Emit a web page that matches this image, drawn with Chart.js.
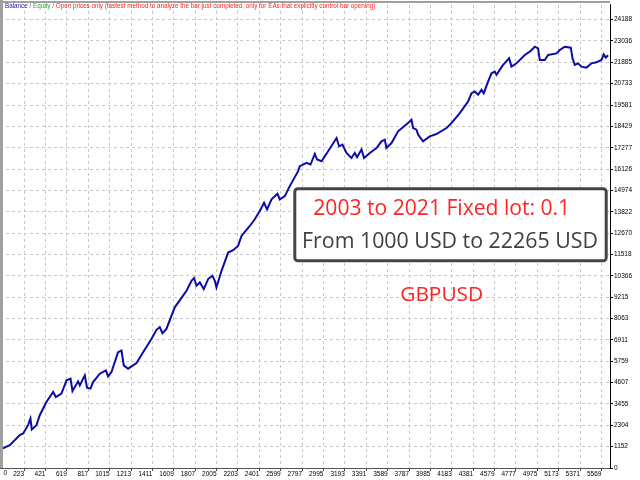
<!DOCTYPE html>
<html>
<head>
<meta charset="utf-8">
<script src="https://cdn.jsdelivr.net/npm/chart.js@4/dist/chart.umd.min.js"></script>
<style>
  html, body { margin: 0; background: #fff; }
  canvas { display: block; }
</style>
</head>
<body>
<canvas id="chart" width="640" height="480"></canvas>
<script>
// trade number / balance
const trades = [0, 91, 183, 214, 260, 282, 294, 338, 368, 430,
  492, 517, 569, 616, 653, 671, 723, 739, 785, 806,
  838, 862, 924, 980, 1001, 1032, 1093, 1125, 1146, 1186,
  1264, 1325, 1403, 1449, 1479, 1504, 1541, 1618, 1695, 1727,
  1773, 1797, 1819, 1850, 1887, 1927, 1967, 1989, 2004, 2051,
  2112, 2158, 2204, 2236, 2313, 2359, 2405, 2445, 2473, 2514,
  2569, 2591, 2637, 2683, 2760, 2776, 2838, 2875, 2915, 2936,
  2977, 3038, 3116, 3140, 3171, 3208, 3254, 3285, 3306, 3347,
  3371, 3424, 3486, 3532, 3563, 3578, 3625, 3686, 3794, 3810,
  3825, 3856, 3871, 3917, 3979, 4041, 4134, 4180, 4257, 4334,
  4366, 4396, 4427, 4458, 4479, 4519, 4551, 4581, 4597, 4658,
  4714, 4736, 4782, 4859, 4905, 4952, 4982, 4998, 5044, 5075,
  5153, 5183, 5229, 5285, 5301, 5322, 5353, 5384, 5430, 5477,
  5523, 5569, 5590, 5609, 5630];

const balance = [1000, 1236, 1773, 1864, 2310, 2670, 2079, 2310, 2848, 3562,
  4100, 3831, 4014, 4728, 4820, 4153, 4675, 4460, 4997, 4336,
  4282, 4637, 5088, 5266, 4943, 5174, 6249, 6340, 5534, 5357,
  5658, 6249, 6969, 7452, 7603, 7270, 7506, 8667, 9295, 9564,
  10101, 10246, 9833, 10010, 9655, 10193, 10370, 10101, 9741, 10639,
  11622, 11751, 11982, 12519, 13056, 13416, 13862, 14308, 13954, 14491,
  14792, 14491, 14668, 15206, 16012, 16280, 16458, 16371, 16941, 16640,
  16549, 17086, 17801, 17355, 17446, 16995, 16726, 16995, 16764, 17178,
  16726, 16995, 17264, 17623, 17715, 17264, 17532, 18161, 18698, 18789,
  18338, 18252, 17983, 17623, 17892, 18016, 18338, 18607, 19144, 19773,
  20219, 20310, 20133, 20401, 20219, 20847, 21293, 21385, 21207, 21744,
  22099, 21653, 21830, 22282, 22459, 22728, 22636, 22013, 22013, 22282,
  22368, 22550, 22728, 22674, 22099, 21744, 21830, 21653, 21599, 21830,
  21884, 22013, 22314, 22137, 22265];

const xTicks = [223, 421, 619, 817, 1015, 1213, 1411, 1609, 1807, 2005,
  2203, 2401, 2599, 2797, 2995, 3193, 3391, 3589, 3787, 3985,
  4183, 4381, 4579, 4777, 4975, 5173, 5371, 5569];
const xTickLabels = xTicks.map(String);

const yTickLabels = ["0", "1152", "2304", "3455", "4607", "5759", "6911", "8063",
  "9215", "10366", "11518", "12670", "13822", "14974", "16126", "17277",
  "18429", "19581", "20733", "21885", "23036", "24188"];
const yTicks = yTickLabels.map(Number);

const legendParts = [
  ["Balance", "#1a1aa8"], [" / ", "#606060"], ["Equity", "#22aa22"], [" / ", "#606060"],
  ["Open prices only (fastest method to analyze the bar just completed, only for EAs that explicitly control bar opening)", "#ff2020"]
];
const title1 = "2003 to 2021 Fixed lot: 0.1";
const title2 = "From 1000 USD to 22265 USD";
const symbol = "GBPUSD";

const axisFont = { family: "Liberation Sans", size: 6.5 };

function fitFont(ctx, text, width, family) {
  ctx.font = "100px " + family;
  return 100 * width / ctx.measureText(text).width;
}

const overlay = {
  id: "overlay",
  beforeDraw(c) {
    const ctx = c.ctx;
    ctx.save();
    ctx.fillStyle = "#fff";
    ctx.fillRect(0, 0, c.width, c.height);
    ctx.restore();
  },
  afterDraw(c) {
    const ctx = c.ctx;
    const a = c.chartArea;
    ctx.save();
    // gray frame left / top
    ctx.fillStyle = "#a0a0a0";
    ctx.fillRect(0, 0, 3, a.bottom);
    ctx.fillRect(0, 1, a.right, 2);

    // first x label, MT4 puts it at the left edge
    ctx.fillStyle = "#000";
    ctx.font = axisFont.size + "px " + axisFont.family;
    ctx.textBaseline = "middle";
    ctx.textAlign = "left";
    ctx.fillText("0", 3.5, 473.5);

    // legend line
    let total = legendParts.map(p => p[0]).join("");
    let fs = fitFont(ctx, total, 371, "Liberation Sans");
    ctx.font = fs + "px Liberation Sans";
    let x = 5;
    legendParts.forEach(p => {
      ctx.fillStyle = p[1];
      ctx.fillText(p[0], x, 6.5);
      x += ctx.measureText(p[0]).width;
    });

    // text box
    ctx.fillStyle = "#fff";
    ctx.strokeStyle = "#454545";
    ctx.lineWidth = 3;
    ctx.beginPath();
    ctx.roundRect(294.8, 188.8, 311.4, 72, 3);
    ctx.fill();
    ctx.stroke();

    ctx.textAlign = "center";
    ctx.textBaseline = "alphabetic";
    fs = fitFont(ctx, title1, 257, "Open Sans");
    ctx.font = fs + "px Open Sans";
    ctx.fillStyle = "#ff2424";
    ctx.fillText(title1, 441.7, 215);

    fs = fitFont(ctx, title2, 296, "Open Sans");
    ctx.font = fs + "px Open Sans";
    ctx.fillStyle = "#404040";
    ctx.fillText(title2, 450, 248.3);

    fs = fitFont(ctx, symbol, 83, "Open Sans");
    ctx.font = fs + "px Open Sans";
    ctx.fillStyle = "#ff2424";
    ctx.fillText(symbol, 441.7, 300.7);
    ctx.restore();
  }
};

const ctx = document.getElementById("chart").getContext("2d");
new Chart(ctx, {
  type: "line",
  data: {
    datasets: [{
      label: "Balance",
      data: trades.map((t, i) => ({ x: t, y: balance[i] })),
      borderColor: "#0c0ca6",
      borderWidth: 2,
      pointRadius: 0,
      tension: 0,
      fill: false
    }]
  },
  options: {
    responsive: false,
    animation: false,
    devicePixelRatio: 1,
    layout: { padding: { left: 0, top: 3, right: 0, bottom: 0 } },
    plugins: { legend: { display: false }, tooltip: { enabled: false } },
    scales: {
      x: {
        type: "linear",
        min: 0,
        max: 5648,
        afterBuildTicks: s => { s.ticks = xTicks.map(v => ({ value: v })); },
        afterFit: s => { s.height = 12; },
        ticks: {
          autoSkip: false, maxRotation: 0, align: "end", padding: -1,
          font: axisFont, color: "#000",
          callback: (v, i) => xTickLabels[i]
        },
        grid: { color: "#c8c8c8", tickColor: "#444", tickLength: 3 },
        border: { color: "#555", width: 1, dash: [3, 3] }
      },
      y: {
        position: "right",
        min: 0,
        max: 24983,
        afterBuildTicks: s => { s.ticks = yTicks.map(v => ({ value: v })); },
        afterFit: s => { s.width = 30; },
        ticks: {
          padding: 1, font: axisFont, color: "#000",
          callback: (v, i) => yTickLabels[i]
        },
        grid: { color: "#c8c8c8", tickColor: "#000", tickLength: 3 },
        border: { color: "#000", width: 1, dash: [3, 3] }
      }
    }
  },
  plugins: [overlay]
});
</script>
</body>
</html>
